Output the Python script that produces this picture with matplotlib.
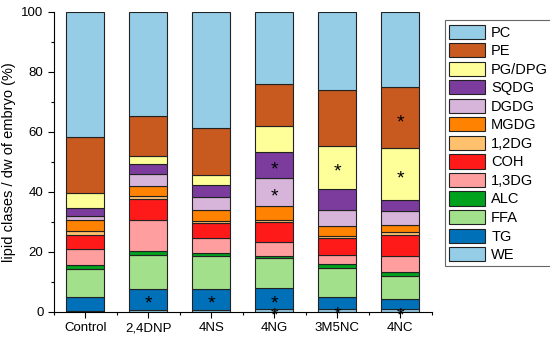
import matplotlib
matplotlib.use('Agg')
import matplotlib.pyplot as plt
import matplotlib.transforms as mtransforms
import numpy as np

plt.rcParams['font.family'] = ['Liberation Sans', 'DejaVu Sans']

# categories on the x axis
samples = ['Control', '2,4DNP', '4NS', '4NG', '3M5NC', '4NC']

# lipid classes, bottom to top (% of embryo dw)
classes = ['WE', 'TG', 'FFA', 'ALC', '1,3DG', 'COH', '1,2DG',
           'MGDG', 'DGDG', 'SQDG', 'PG/DPG', 'PE', 'PC']
WE = [0.2, 0.6, 0.6, 0.9, 1.1, 0.9]
TG = [4.9, 7.1, 7.1, 7.0, 3.9, 3.4]
FFA = [9.3, 11.4, 11.1, 10.1, 9.7, 7.8]
ALC = [1.3, 1.2, 1.0, 0.8, 1.3, 1.1]
DG13 = [5.3, 10.4, 4.9, 4.6, 3.0, 5.6]
COH = [4.8, 6.9, 5.0, 6.7, 5.8, 6.9]
DG12 = [1.1, 1.1, 0.7, 0.6, 0.6, 0.9]
MGDG = [3.9, 3.4, 3.7, 4.6, 3.4, 2.4]
DGDG = [1.3, 4.0, 4.2, 9.4, 5.3, 4.5]
SQDG = [2.7, 3.3, 3.9, 8.5, 6.8, 3.7]
PGDPG = [4.9, 2.5, 3.5, 8.8, 14.4, 17.3]
PE = [18.5, 13.5, 15.6, 13.9, 18.6, 20.4]
PC = [41.8, 34.6, 38.7, 24.1, 26.1, 24.9]
values = [WE, TG, FFA, ALC, DG13, COH, DG12, MGDG, DGDG, SQDG, PGDPG, PE, PC]

colors = ['#96CDE6', '#0071B9', '#A3E08C', '#00A21E', '#FF9E9E', '#FF1A1A',
          '#FFC16E', '#FF8200', '#D7B4D9', '#7B3C9E', '#FFFF9A', '#C8591F',
          '#96CDE6']

# significance marks: (sample index, class name)
stars = [(1, 'TG'), (2, 'TG'), (3, 'SQDG'), (3, 'DGDG'), (3, 'TG'), (3, 'WE'),
         (4, 'PG/DPG'), (4, 'WE'), (5, 'PE'), (5, 'PG/DPG'), (5, 'WE')]

fig = plt.figure(figsize=(5.5, 3.38), dpi=100)
ax = fig.add_axes([0.098, 0.077, 0.687, 0.888])

x = np.arange(len(samples))
bottom = np.zeros(len(samples))
handles = []
centers = {}
for name, vals, col in zip(classes, values, colors):
    vals = np.array(vals)
    h = ax.bar(x, vals, 0.6, bottom=bottom, color=col,
               edgecolor='#222222', linewidth=0.8, label=name)
    handles.append(h)
    centers[name] = bottom + vals / 2
    bottom = bottom + vals

# the asterisk glyph sits high in its box, nudge it down a bit
star_trans = mtransforms.offset_copy(ax.transData, fig=fig, x=0, y=-3.5, units='points')
for i, name in stars:
    ax.text(x[i], centers[name][i], '*', ha='center', va='center',
            fontsize=14, color='black', transform=star_trans)

ax.set_xlim(-0.5, 5.5)
ax.set_ylim(0, 100)
ax.set_xticks(x)
ax.set_xticklabels(samples, fontsize=9)
ax.set_xticks(np.arange(-0.5, 5.6, 1.0), minor=True)
ax.set_yticks(np.arange(0, 101, 20))
ax.set_yticks(np.arange(10, 100, 20), minor=True)
ax.tick_params(axis='both', direction='out', labelsize=9.5, length=4, width=0.8)
ax.tick_params(axis='both', which='minor', direction='out', length=2.5, width=0.8)
ax.spines['top'].set_visible(False)
ax.spines['right'].set_visible(False)
ax.set_ylabel('lipid clases / dw of embryo (%)', fontsize=10.5)

leg = fig.legend(handles[::-1], classes[::-1], loc='upper left',
                 bbox_to_anchor=(0.795, 0.962), fontsize=10.5,
                 handlelength=2.5, handleheight=1.12, labelspacing=0.24,
                 handletextpad=0.4, borderpad=0.3, fancybox=False,
                 edgecolor='#666666', framealpha=1)
leg.get_frame().set_linewidth(0.8)

fig.savefig('out.png', dpi=100)
